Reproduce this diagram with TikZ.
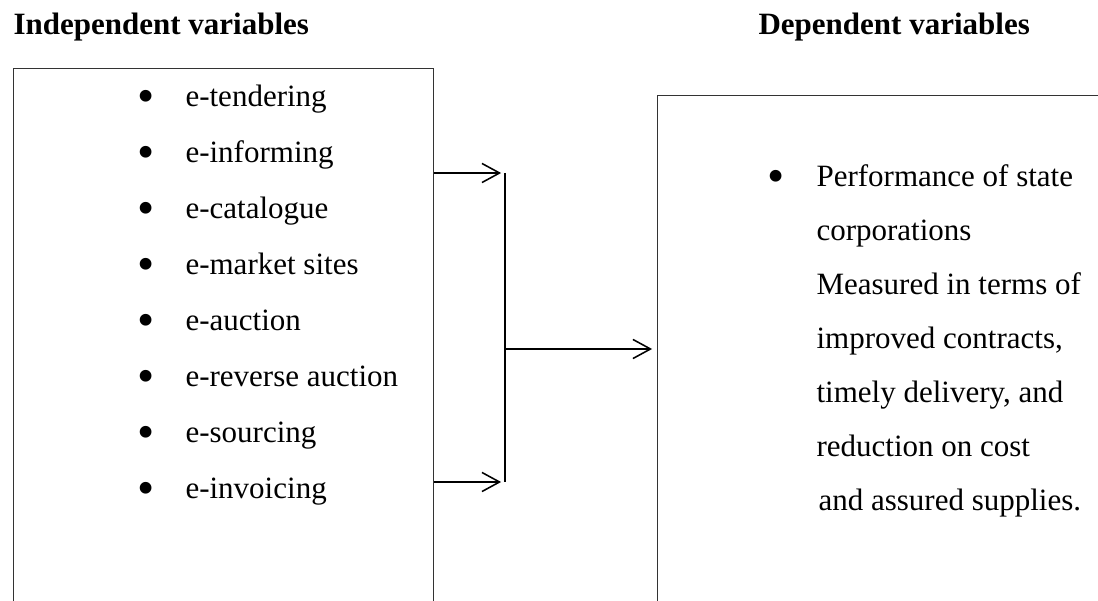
\documentclass[tikz,border=0pt]{standalone}
\usepackage{fontspec}
\setmainfont{Liberation Serif}
\usetikzlibrary{arrows.meta}

% one pixel of the reference
\newcommand\pxu{0.387pt}

\tikzset{
  txt/.style={anchor=base west,inner sep=0pt,font=\fontsize{12}{14}\selectfont},
  head/.style={txt,font=\fontsize{12}{14}\selectfont\bfseries},
  dot/.style={anchor=base,inner sep=0pt,font=\fontsize{19}{20}\selectfont},
  box/.style={draw=black!80,line width=0.45pt,inner sep=0pt,anchor=north west},
  link/.style={line width=0.6pt},
  arr/.style={link,-{Straight Barb[length=6.8pt,width=7.4pt,line width=0.6pt]}},
}

\begin{document}
\begin{tikzpicture}[x=\pxu,y=-\pxu]
  \useasboundingbox (0,0) rectangle (1098,601);
  \clip (0,0) rectangle (1098,601);

  % headings
  \node[head] (indeptitle) at (13,35) {Independent variables};
  \node[head] (deptitle) at (758,35) {Dependent variables};

  % the two boxes run off the page
  \node[box,minimum width=420*\pxu,minimum height=600*\pxu] (indep) at (13,68) {};
  \node[box,minimum width=500*\pxu,minimum height=600*\pxu] (dep) at (657,95) {};

  % independent variables
  \foreach[count=\i,evaluate={51+56*\i} as \y] \v in {e-tendering,e-informing,e-catalogue,e-market sites,e-auction,e-reverse auction,e-sourcing,e-invoicing} {
    \node[dot] (ivb\i) at (146,\y+6) {\textbullet};
    \node[txt] (iv\i) at (185,\y) {\v};
  }

  % dependent variable
  \node[dot] (dvb) at (776,193) {\textbullet};
  \foreach[count=\i,evaluate={133+54*\i} as \y] \v in {Performance of state,corporations,Measured in terms of,{improved contracts,},{timely delivery, and},reduction on cost} {
    \node[txt] (dv\i) at (816,\y) {\v};
  }
  \node[txt] (dv7) at (818,511) {and assured supplies.};

  % connectors
  \coordinate (jtop) at (505,173);
  \coordinate (jmid) at (505,349);
  \coordinate (jbot) at (505,482);
  \draw[arr,shorten >=1.5pt] (indep.east |- jtop) -- (jtop);
  \draw[arr,shorten >=1.5pt] (indep.east |- jbot) -- (jbot);
  \draw[link] (jtop) -- (jbot);
  \draw[arr,shorten >=1.9pt] (jmid) -- (dep.west |- jmid);
\end{tikzpicture}
\end{document}
